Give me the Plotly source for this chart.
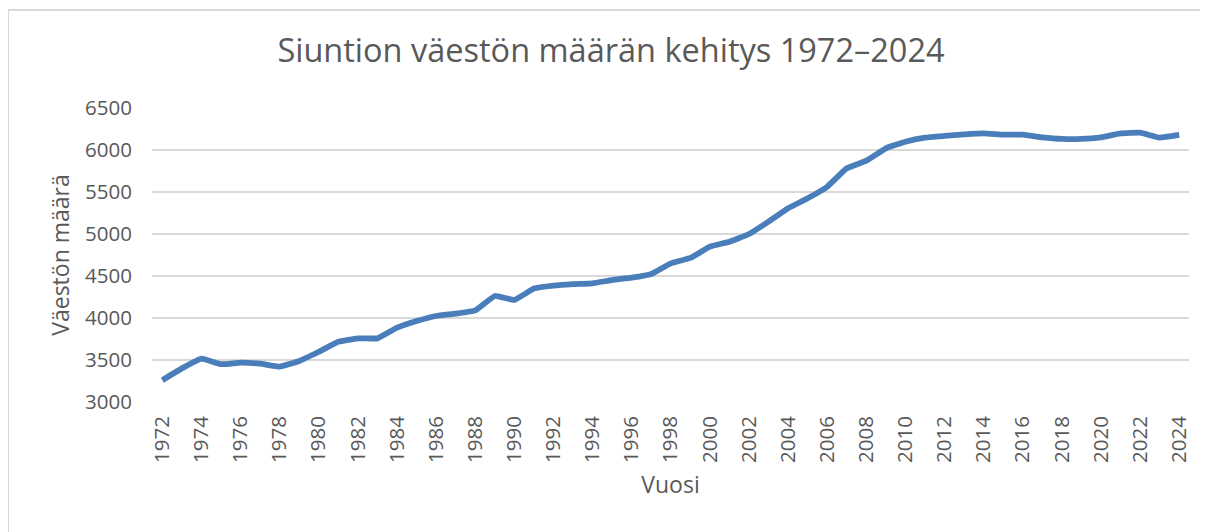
import plotly.graph_objects as go

years = list(range(1972, 2025))
population = [
    3260, 3400, 3516, 3450, 3468, 3456, 3420, 3488, 3598, 3718,
    3758, 3758, 3885, 3964, 4024, 4052, 4091, 4262, 4215, 4350,
    4385, 4403, 4413, 4452, 4480, 4524, 4650, 4715, 4849, 4909,
    5000, 5147, 5306, 5425, 5563, 5782, 5873, 6020, 6099, 6147,
    6167, 6185, 6198, 6183, 6183, 6151, 6132, 6132, 6151, 6198,
    6206, 6147, 6179,
]
y_ticks = [3000, 3500, 4000, 4500, 5000, 5500, 6000, 6500]
x_ticks = list(range(1972, 2025, 2))

TXT = "#595959"
FONT = "Open Sans"
# page body adds an 8px offset; figure spans 8..1208 x 8..532 of the window
OFF = 8
W, H = 1200, 524
L, R, T, B = 152 - OFF, 19, 108 - OFF, 130
pw, ph = W - L - R, H - T - B

fig = go.Figure()
fig.add_trace(go.Scatter(
    x=years, y=population, mode="lines",
    line=dict(color="#4a7ebb", width=5.8, shape="spline", smoothing=0.3),
    hoverinfo="x+y", showlegend=False,
))

fig.update_layout(
    width=W, height=H,
    margin=dict(l=L, r=R, t=T, b=B, autoexpand=False),
    paper_bgcolor="white", plot_bgcolor="white",
    font=dict(family=FONT, color=TXT, size=20),
    title=dict(text="Siuntion väestön määrän kehitys 1972–2024",
               x=(611 - OFF) / W, xanchor="center", y=1 - (51 - OFF) / H, yanchor="middle",
               font=dict(size=32.5, color=TXT, family=FONT)),
    xaxis=dict(range=[1971.47, 2024.5], tickmode="array", tickvals=x_ticks,
               ticktext=[str(v) for v in x_ticks], tickangle=-90,
               showgrid=False, zeroline=False, showline=False,
               ticks="", ticklabelstandoff=9, automargin=False,
               tickfont=dict(size=20.5, color=TXT),
               title=dict(text="Vuosi", font=dict(size=23, color=TXT), standoff=14)),
    yaxis=dict(range=[3000, 6500], tickmode="array", tickvals=y_ticks,
               showgrid=True, gridcolor="#d9d9d9", gridwidth=2,
               zeroline=False, showline=False, ticks="",
               ticklabelstandoff=19, automargin=False,
               tickfont=dict(size=20.5, color=TXT),
               title=dict(text="Väestön määrä", font=dict(size=23, color=TXT), standoff=9)),
)

# outer chart frame
fig.add_shape(type="rect", xref="paper", yref="paper",
              x0=(8 - OFF - L) / pw, x1=(1215 - OFF - L) / pw,
              y0=(H - 540 - B) / ph, y1=(H - (10 - OFF) - B) / ph,
              line=dict(color="#d9d9d9", width=2), fillcolor="rgba(0,0,0,0)",
              layer="below")

fig.write_html("out.html")
